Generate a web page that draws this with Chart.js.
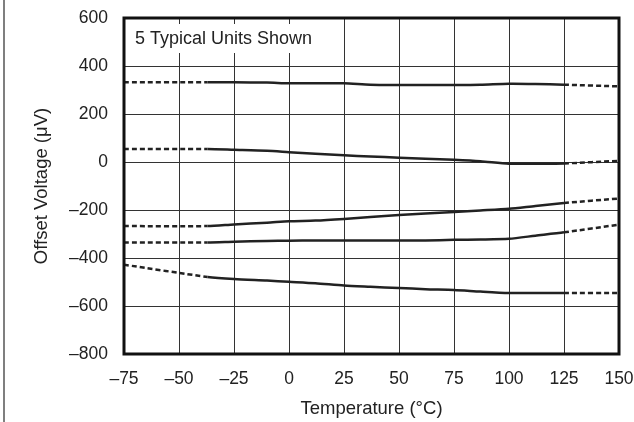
<!DOCTYPE html>
<html>
<head>
<meta charset="utf-8">
<script src="https://cdn.jsdelivr.net/npm/chart.js@4/dist/chart.umd.min.js"></script>
<style>
  html, body { margin: 0; padding: 0; background: #fff; }
  #wrap { width: 634px; height: 422px; position: relative; }
</style>
</head>
<body>
<div id="wrap"><canvas id="chart" width="634" height="422"></canvas></div>
<script>
const temps = [-75, -37, -25, -10, 0, 12, 25, 37, 50, 62, 75, 87, 100, 112, 125, 150];
const unit1 = [332, 332, 332, 331, 328, 328, 328, 322, 321, 321, 321, 322, 326, 325, 322, 315];
const unit2 = [54, 54, 51, 47, 41, 34, 28, 23, 18, 14, 9, 3, -7, -7, -6, 5];
const unit3 = [-267, -267, -260, -253, -247, -244, -237, -229, -221, -215, -208, -202, -195, -183, -171, -152];
const unit4 = [-335, -335, -332, -329, -328, -327, -327, -327, -327, -327, -324, -323, -320, -307, -293, -261];
const unit5 = [-428, -479, -488, -494, -499, -505, -515, -520, -525, -530, -533, -540, -546, -546, -546, -546];
const xTicks = [-75, -50, -25, 0, 25, 50, 75, 100, 125, 150];
const yTicks = [-800, -600, -400, -200, 0, 200, 400, 600];
const specLow = -37, specHigh = 125;

const FONT = "'Liberation Sans', Arial, Helvetica, sans-serif";
const FSIZE = 17.5;
const TSIZE = 18.5;
const INK = '#222';

function minus(v) { return String(v).replace('-', '\u2013'); }

function makeSet(vals) {
  return {
    data: temps.map((t, i) => ({ x: t, y: vals[i] })),
    borderColor: '#222',
    borderWidth: 2.5,
    pointRadius: 0,
    tension: 0.25,
    fill: false,
    segment: {
      borderDash: ctx => (ctx.p1.parsed.x <= specLow || ctx.p0.parsed.x >= specHigh) ? [5, 3] : undefined
    }
  };
}

const overlay = {
  id: 'overlay',
  beforeDatasetsDraw(chart) {
    const { ctx, chartArea: a, scales } = chart;
    ctx.save();
    // label box covers the grid in the corner
    ctx.fillStyle = '#fff';
    ctx.fillRect(a.left, a.top, 333 - a.left, 35);
    ctx.strokeStyle = '#333';
    ctx.lineWidth = 1;
    [-50, -25, 0].forEach(t => {
      const x = Math.round(scales.x.getPixelForValue(t)) + 0.5;
      ctx.beginPath();
      ctx.moveTo(x, a.top);
      ctx.lineTo(x, a.top + 6);
      ctx.stroke();
    });
    ctx.fillStyle = INK;
    ctx.font = '18px ' + FONT;
    ctx.textBaseline = 'alphabetic';
    ctx.fillText('5 Typical Units Shown', a.left + 11, a.top + 26);
    ctx.restore();
  },
  afterDraw(chart) {
    const { ctx, chartArea: a } = chart;
    ctx.save();
    ctx.strokeStyle = '#111';
    ctx.lineWidth = 3;
    ctx.strokeRect(a.left, a.top, a.right - a.left, a.bottom - a.top);
    ctx.strokeStyle = '#555';
    ctx.lineWidth = 1.5;
    ctx.beginPath();
    ctx.moveTo(4, 0);
    ctx.lineTo(4, 422);
    ctx.stroke();
    ctx.restore();
  }
};

new Chart(document.getElementById('chart'), {
  type: 'line',
  data: { datasets: [makeSet(unit1), makeSet(unit2), makeSet(unit3), makeSet(unit4), makeSet(unit5)] },
  options: {
    responsive: false,
    animation: false,
    layout: { padding: { top: 18, right: 15, left: 0, bottom: 0 } },
    plugins: { legend: { display: false }, tooltip: { enabled: false } },
    scales: {
      x: {
        type: 'linear',
        min: -75, max: 150,
        afterBuildTicks: s => { s.ticks = xTicks.map(v => ({ value: v })); },
        afterFit: s => { s.height = 68; s.paddingLeft = 0; s.paddingRight = 0; },
        grid: { color: '#333', lineWidth: 1, drawTicks: false },
        border: { display: false },
        ticks: {
          padding: 15, color: INK, maxRotation: 0,
          font: { family: FONT, size: FSIZE },
          callback: v => minus(v)
        },
        title: {
          display: true, text: 'Temperature (°C)', color: INK,
          font: { family: FONT, size: TSIZE },
          padding: { top: 0, bottom: 2 }
        }
      },
      y: {
        min: -800, max: 600,
        afterBuildTicks: s => { s.ticks = yTicks.map(v => ({ value: v })); },
        afterFit: s => { s.width = 124; s.paddingTop = 0; s.paddingBottom = 0; },
        grid: { color: '#333', lineWidth: 1, drawTicks: false },
        border: { display: false },
        ticks: {
          padding: 16, color: INK,
          font: { family: FONT, size: FSIZE },
          callback: v => minus(v)
        },
        title: {
          display: true, text: 'Offset Voltage (μV)', color: INK,
          font: { family: FONT, size: TSIZE },
          padding: { top: 31, bottom: 0 }
        }
      }
    }
  },
  plugins: [overlay]
});
</script>
</body>
</html>
